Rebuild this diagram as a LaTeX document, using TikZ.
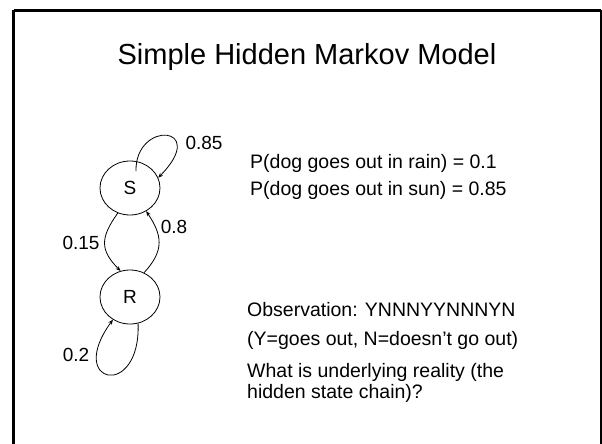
\documentclass[tikz,border=0pt]{standalone}
\usepackage{fontspec}
\setmainfont{Liberation Sans}
\usetikzlibrary{shapes.geometric,arrows.meta,calc}
\begin{document}
\begin{tikzpicture}[x=1pt,y=-1pt,
  statenode/.style={draw,ellipse,line width=0.8pt,minimum width=60pt,minimum height=54pt,inner sep=0pt,font=\fontsize{19}{22}\selectfont},
  edge/.style={line width=0.8pt,-{Stealth[length=5pt,width=4pt]}},
  prob/.style={inner sep=0pt,font=\fontsize{19}{22}\selectfont},
  body/.style={inner sep=0pt,anchor=base west,font=\fontsize{19.5}{22}\selectfont}]
\useasboundingbox (0,0) rectangle (602,444);
\draw[line width=3pt] (13.5,10.5) -- (601,10.5);
\draw[line width=3pt] (13.5,10.5) -- (13.5,450);
\draw[line width=3pt] (601,10.5) -- (601,450);
\node[inner sep=0pt,anchor=base,font=\fontsize{29}{34}\selectfont] (title) at (307,65) {Simple Hidden Markov Model};
\node[statenode] (S) at (130,188) {S};
\node[statenode] (R) at (130,297) {R};
\coordinate (Sin) at ($(S.center)+(6,-17)$);
\draw[edge] (Sin) .. controls (135,120) and (210,125) .. (S.20);
\draw[edge] (S.244) .. controls (100,238) and (100,250) .. (R.110);
\draw[edge] (R.60) .. controls (165,250) and (162,235) .. (S.-55);
\draw[edge] (R.-73) .. controls (141,400) and (65,385) .. (R.233);
\node[prob] (p85) at (204,143) {0.85};
\node[prob] (p15) at (81,243) {0.15};
\node[prob] (p8) at (174,227) {0.8};
\node[prob] (p2) at (76,355) {0.2};
\node[body] (l1) at (250,168) {P(dog goes out in rain) = 0.1};
\node[body] (l2) at (250,195) {P(dog goes out in sun) = 0.85};
\node[body] (l3) at (247,316) {Observation: YNNNYYNNNYN};
\node[body] (l4) at (247,345) {(Y=goes out, N=doesn’t go out)};
\node[body] (l5) at (247,377) {What is underlying reality (the};
\node[body] (l6) at (247,398.5) {hidden state chain)?};
\end{tikzpicture}
\end{document}
